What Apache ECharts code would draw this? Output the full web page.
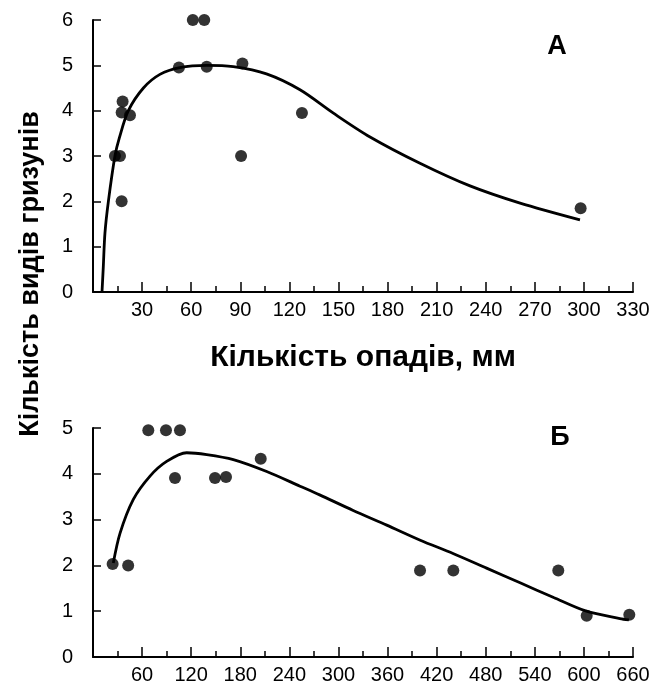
<!DOCTYPE html>
<html>
<head>
<meta charset="utf-8">
<script src="https://cdn.jsdelivr.net/npm/echarts@6/dist/echarts.min.js"></script>
<style>
html,body{margin:0;padding:0;background:#fff;}
#chart{width:664px;height:695px;}
</style>
</head>
<body>
<div id="chart"></div>
<script>
// Panel А: rainfall (mm) vs number of rodent species
const rainA    = [13.4, 16.5, 17.5, 18.1, 17.5, 22.6, 52.5, 61, 68, 69.5, 91.3, 90.5, 127.7, 298];
const speciesA = [3.0, 3.0, 2.0, 4.2, 3.96, 3.9, 4.95, 6, 6, 4.97, 5.04, 3.0, 3.95, 1.85];
// fitted curve
const curveAx = [5.5, 6.3, 7.3, 9.4, 13.4, 16.1, 21.6, 30.8, 40.9, 53, 69.5, 85.7, 106, 126.5, 146.7, 169.3, 199.8, 230.4, 261, 297.6];
const curveAy = [0, 0.56, 1.3, 2.0, 3.0, 3.4, 4.0, 4.5, 4.8, 4.95, 5.0, 4.97, 4.81, 4.46, 3.95, 3.42, 2.84, 2.34, 1.96, 1.59];

// Panel Б
const rainB    = [24, 43, 67.6, 89.2, 106.3, 100.2, 149.1, 162.6, 205, 399.7, 440.4, 568.7, 603.4, 655.5];
const speciesB = [2.03, 2.0, 4.95, 4.95, 4.95, 3.91, 3.91, 3.93, 4.33, 1.89, 1.89, 1.89, 0.9, 0.92];
const curveBx = [24.8, 33, 49.3, 69.7, 90, 114.5, 139, 171.5, 212.3, 253, 277, 318, 359, 400, 440, 481, 522, 563, 603, 644, 655];
const curveBy = [2.05, 2.7, 3.44, 3.95, 4.27, 4.46, 4.42, 4.31, 4.05, 3.73, 3.54, 3.2, 2.88, 2.55, 2.26, 1.94, 1.62, 1.3, 1.0, 0.84, 0.81];

const xTicksA = {min: 0, max: 330, interval: 30};
const xTicksB = {min: 0, max: 660, interval: 60};
const yTicksA = {min: 0, max: 6, interval: 1};
const yTicksB = {min: 0, max: 5, interval: 1};

const xName = 'Кількість опадів, мм';
const yName = 'Кількість видів гризунів';
const panelNames = ['А', 'Б'];

const zip = (xs, ys) => xs.map((x, i) => [x, ys[i]]);

const FONT = 'Liberation Sans, Arial, sans-serif';
const axisCommon = {
  axisLine: {show: true, onZero: false, lineStyle: {color: '#000', width: 2}},
  axisTick: {show: true, inside: true, length: 10, lineStyle: {color: '#000', width: 1.5}},
  splitLine: {show: false},
  axisLabel: {color: '#000', fontSize: 20, fontFamily: FONT}
};

function xAxis(t, grid, name) {
  return Object.assign({}, axisCommon, {
    type: 'value', gridIndex: grid, min: t.min, max: t.max, interval: t.interval,
    minorTick: {show: true, splitNumber: 2, length: 6, lineStyle: {color: '#000', width: 1.5}},
    axisLabel: Object.assign({}, axisCommon.axisLabel, {margin: 8, formatter: v => v === 0 ? '' : String(v)}),
    name: name || '', nameLocation: 'middle', nameGap: 51,
    nameTextStyle: {color: '#000', fontSize: 30, fontWeight: 'bold', fontFamily: FONT}
  });
}
function yAxis(t, grid) {
  return Object.assign({}, axisCommon, {
    type: 'value', gridIndex: grid, min: t.min, max: t.max, interval: t.interval,
    axisTick: Object.assign({}, axisCommon.axisTick, {length: 8}),
    axisLabel: Object.assign({}, axisCommon.axisLabel, {margin: 20})
  });
}

const chart = echarts.init(document.getElementById('chart'), null, {renderer: 'canvas'});
chart.setOption({
  backgroundColor: '#fff',
  animation: false,
  grid: [
    {left: 93, right: 31, top: 20, height: 272, containLabel: false, outerBoundsMode: 'none'},
    {left: 93, right: 31, top: 428, height: 229, containLabel: false, outerBoundsMode: 'none'}
  ],
  xAxis: [xAxis(xTicksA, 0, xName), xAxis(xTicksB, 1)],
  yAxis: [yAxis(yTicksA, 0), yAxis(yTicksB, 1)],
  graphic: [
    {type: 'text', x: 31, y: 274, rotation: Math.PI / 2,
     style: {text: yName, fill: '#000', font: 'bold 27px ' + FONT, textAlign: 'center', textVerticalAlign: 'middle'}},
    {type: 'text', x: 557, y: 47,
     style: {text: panelNames[0], fill: '#000', font: 'bold 27px ' + FONT, textAlign: 'center', textVerticalAlign: 'middle'}},
    {type: 'text', x: 560, y: 438,
     style: {text: panelNames[1], fill: '#000', font: 'bold 27px ' + FONT, textAlign: 'center', textVerticalAlign: 'middle'}}
  ],
  series: [
    {type: 'line', xAxisIndex: 0, yAxisIndex: 0, data: zip(curveAx, curveAy), smooth: 0.3,
     showSymbol: false, lineStyle: {color: '#000', width: 2.8}, z: 2},
    {type: 'scatter', xAxisIndex: 0, yAxisIndex: 0, data: zip(rainA, speciesA), symbolSize: 12,
     itemStyle: {color: '#000'}, z: 3},
    {type: 'line', xAxisIndex: 1, yAxisIndex: 1, data: zip(curveBx, curveBy), smooth: 0.3,
     showSymbol: false, lineStyle: {color: '#000', width: 2.8}, z: 2},
    {type: 'scatter', xAxisIndex: 1, yAxisIndex: 1, data: zip(rainB, speciesB), symbolSize: 12,
     itemStyle: {color: '#000'}, z: 3}
  ]
});
</script>
</body>
</html>
